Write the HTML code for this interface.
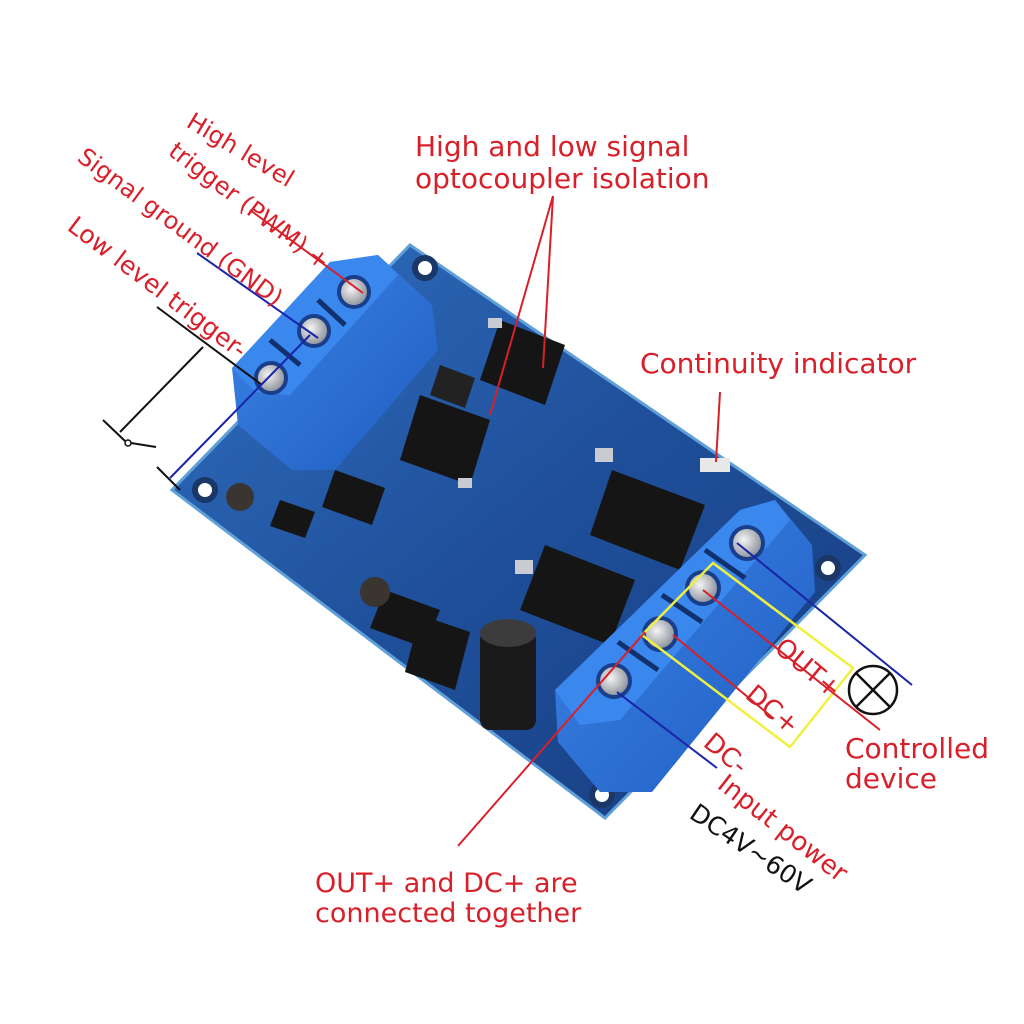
<!DOCTYPE html>
<html><head><meta charset="utf-8"><style>
html,body{margin:0;padding:0;background:#fff;}
svg{display:block;}
text{font-family:"DejaVu Sans","Liberation Sans",sans-serif;}
</style></head><body>
<svg width="1024" height="1024" viewBox="0 0 1024 1024" xmlns="http://www.w3.org/2000/svg">
<defs>
<linearGradient id="pcb" x1="0" y1="0" x2="1" y2="1">
<stop offset="0" stop-color="#2f6fc0"/><stop offset="0.5" stop-color="#1f4f9a"/><stop offset="1" stop-color="#173d80"/>
</linearGradient>
<linearGradient id="blk" x1="0" y1="0" x2="1" y2="1">
<stop offset="0" stop-color="#3d86e8"/><stop offset="1" stop-color="#1f5cc0"/>
</linearGradient>
<radialGradient id="scr" cx="0.4" cy="0.4" r="0.6"><stop offset="0" stop-color="#f4f4f4"/><stop offset="1" stop-color="#8a8f98"/></radialGradient>
</defs>
<polygon points="410,245 865,555 605,818 172,490" fill="url(#pcb)" stroke="#5fa0d8" stroke-width="3"/>
<g fill="#fff" stroke="#1b3768" stroke-width="6">
<circle cx="425" cy="268" r="10"/><circle cx="828" cy="568" r="10"/><circle cx="602" cy="795" r="10"/><circle cx="205" cy="490" r="10"/>
</g>
<g fill="#151515">
<polygon points="500,320 565,345 545,405 480,380"/>
<polygon points="420,395 490,420 470,485 400,460"/>
<polygon points="612,470 705,505 680,570 590,535"/>
<polygon points="545,545 635,580 610,645 520,610"/>
<polygon points="335,470 385,488 372,525 322,507"/>
<polygon points="385,590 440,610 425,648 370,628"/>
<polygon points="420,615 470,632 455,690 405,672"/>
<polygon points="280,500 315,512 305,538 270,526"/>
<circle cx="240" cy="497" r="14" fill="#3a3530"/>
<circle cx="375" cy="592" r="15" fill="#3a3530"/>
<polygon points="440,365 475,378 465,408 430,395" fill="#222"/>
</g>
<g fill="#c8ccd2">
<rect x="595" y="448" width="18" height="14"/><rect x="515" y="560" width="18" height="14"/>
<rect x="488" y="318" width="14" height="10"/><rect x="458" y="478" width="14" height="10"/>
<rect x="700" y="458" width="30" height="14" fill="#e8e8e8"/>
</g>
<rect x="480" y="630" width="56" height="100" rx="10" fill="#1a1a1a"/>
<ellipse cx="508" cy="633" rx="28" ry="14" fill="#3c3c3c"/>
<polygon points="232,368 330,262 378,255 432,305 438,350 335,470 292,470 238,425" fill="url(#blk)"/>
<polygon points="232,368 330,262 378,255 398,275 290,395 255,392" fill="#3a88ee"/>
<g fill="url(#scr)" stroke="#1a3f8a" stroke-width="4">
<circle cx="354" cy="292" r="15"/><circle cx="314" cy="331" r="15"/><circle cx="271" cy="378" r="15"/>
</g>
<g stroke="#10306e" stroke-width="5"><line x1="318" y1="300" x2="345" y2="325"/><line x1="270" y1="340" x2="300" y2="365"/></g>
<polygon points="555,690 740,510 775,500 812,545 815,592 790,622 652,792 600,792 558,742" fill="url(#blk)"/>
<polygon points="555,690 740,510 775,500 790,520 620,720 580,725" fill="#3a88ee"/>
<g fill="url(#scr)" stroke="#1a3f8a" stroke-width="4">
<circle cx="747" cy="543" r="16"/><circle cx="703" cy="588" r="16"/><circle cx="660" cy="634" r="16"/><circle cx="614" cy="681" r="16"/>
</g>
<g stroke="#10306e" stroke-width="5"><line x1="705" y1="550" x2="745" y2="578"/><line x1="662" y1="595" x2="702" y2="622"/><line x1="618" y1="642" x2="658" y2="670"/></g>
<line x1="250" y1="210" x2="363" y2="293" stroke="#d8202a" stroke-width="2"/>
<line x1="197" y1="253" x2="318" y2="338" stroke="#1a24a8" stroke-width="2"/>
<line x1="157" y1="307" x2="262" y2="385" stroke="#111" stroke-width="2"/>
<polyline points="203,347 120,432" fill="none" stroke="#111" stroke-width="2"/>
<line x1="103" y1="420" x2="125" y2="441" stroke="#111" stroke-width="2"/>
<circle cx="128" cy="443" r="3" fill="#fff" stroke="#111" stroke-width="1.5"/>
<line x1="131" y1="443" x2="156" y2="447" stroke="#111" stroke-width="2"/>
<line x1="157" y1="467" x2="180" y2="490" stroke="#111" stroke-width="2"/>
<line x1="310" y1="335" x2="170" y2="478" stroke="#1a24a8" stroke-width="2"/>
<line x1="553" y1="196" x2="543" y2="368" stroke="#d8202a" stroke-width="2"/>
<line x1="553" y1="196" x2="490" y2="415" stroke="#d8202a" stroke-width="2"/>
<line x1="720" y1="392" x2="716" y2="462" stroke="#d8202a" stroke-width="2"/>
<polygon points="713,563 853,668 790,747 642,635" fill="none" stroke="#f0f040" stroke-width="2.5"/>
<line x1="737" y1="543" x2="912" y2="685" stroke="#1a24a8" stroke-width="2"/>
<line x1="703" y1="590" x2="880" y2="730" stroke="#d8202a" stroke-width="2"/>
<line x1="673" y1="635" x2="773" y2="718" stroke="#d8202a" stroke-width="2"/>
<line x1="617" y1="692" x2="717" y2="768" stroke="#1a24a8" stroke-width="2"/>
<line x1="645" y1="632" x2="458" y2="846" stroke="#d8202a" stroke-width="2"/>
<circle cx="873" cy="690" r="24" fill="#fff" stroke="#111" stroke-width="2.5"/>
<line x1="856" y1="673" x2="890" y2="707" stroke="#111" stroke-width="2.5"/>
<line x1="890" y1="673" x2="856" y2="707" stroke="#111" stroke-width="2.5"/>
<g fill="#d8202a" font-size="24">
<text x="415" y="156" font-size="28">High and low signal</text>
<text x="415" y="188" font-size="28">optocoupler isolation</text>
<text x="640" y="373" font-size="28">Continuity indicator</text>
<text x="845" y="758" font-size="28">Controlled</text>
<text x="845" y="788" font-size="28">device</text>
<text x="315" y="892" font-size="27">OUT+ and DC+ are</text>
<text x="315" y="922" font-size="27">connected together</text>
<text transform="translate(185,126) rotate(31)">High level</text>
<text transform="translate(167,154) rotate(37)">trigger (PWM) +</text>
<text transform="translate(76,160) rotate(36.5)">Signal ground (GND)</text>
<text transform="translate(66,229) rotate(37)" font-size="25">Low level trigger-</text>
<text transform="translate(773,650) rotate(40)" font-size="26">OUT+</text>
<text transform="translate(744,697) rotate(40)" font-size="26">DC+</text>
<text transform="translate(702,745) rotate(40)" font-size="26">DC-</text>
<text transform="translate(716,787) rotate(38)" font-size="26">Input power</text>
<text transform="translate(688,817) rotate(34)" fill="#111" font-size="25">DC4V~60V</text>
</g>
</svg>
</body></html>
